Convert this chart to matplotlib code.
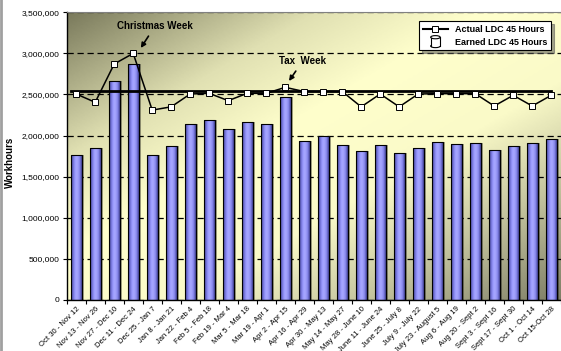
import numpy as np
import matplotlib
matplotlib.use("Agg")
import matplotlib.pyplot as plt
from matplotlib.colors import LinearSegmentedColormap
from matplotlib.legend_handler import HandlerBase
from matplotlib.patches import Rectangle, Ellipse
from matplotlib.lines import Line2D
from matplotlib.ticker import FuncFormatter

plt.rcParams['font.family'] = ['Liberation Sans', 'DejaVu Sans']

# Two-week reporting periods
weeks = ['Oct 30 - Nov 12', 'Nov 13 - Nov 26', 'Nov 27 - Dec 10', 'Dec 11 - Dec 24',
         'Dec 25 - Jan 7', 'Jan 8 - Jan 21', 'Jan 22 - Feb 4', 'Feb 5 - Feb 18',
         'Feb 19 - Mar 4', 'Mar 5 - Mar 18', 'Mar 19 - Apr 1', 'Apr 2 - Apr 15',
         'Apr 16 - Apr 29', 'Apr 30 - May 13', 'May 14 - May 27', 'May 28 - June 10',
         'June 11 - June 24', 'June 25 - July 8', 'July 9 - July 22', 'July 23 - August 5',
         'Aug 6 - Aug 19', 'Aug 20 - Sept 2', 'Sept 3 - Sept 16', 'Sept 17 - Sept 30',
         'Oct 1 - Oct 14', 'Oct 15-Oct 28']

# Workhours per period
earned = [1764000, 1845000, 2660000, 2871000, 1760000, 1873000, 2141000, 2190000,
          2080000, 2160000, 2137000, 2470000, 1930000, 2000000, 1880000, 1810000,
          1885000, 1790000, 1845000, 1920000, 1895000, 1905000, 1830000, 1875000,
          1905000, 1960000]
actual = [2506000, 2405000, 2871000, 3000000, 2310000, 2350000, 2506000, 2514000,
          2425000, 2514000, 2514000, 2587000, 2536000, 2536000, 2536000, 2350000,
          2506000, 2350000, 2506000, 2510000, 2510000, 2510000, 2360000, 2490000,
          2360000, 2490000]
target = 2545000

x = np.arange(len(weeks))

fig = plt.figure(figsize=(5.61, 3.51), dpi=100)
ax = fig.add_axes([0.1189, 0.1453, 0.8806, 0.8197])

# diagonal background gradient: dark corners, pale yellow band across the middle
u = np.linspace(0, 1, 300)
d = np.linspace(0, 1, 200)
U, D = np.meshgrid(u, d)
bg_cmap = LinearSegmentedColormap.from_list(
    'bg', [(0, '#7a7a5c'), (0.25, '#e0e0b2'), (0.42, '#ffffcc'),
           (0.62, '#fafac8'), (0.8, '#c4c49e'), (1, '#7e7e66')])
ax.imshow((U + D) / 2, cmap=bg_cmap, vmin=0, vmax=1, extent=[0, 1, 0, 1],
          transform=ax.transAxes, aspect='auto', origin='upper', zorder=0)

# bar shadows, then the bars themselves with cylinder shading
bar_w = 0.58
ax.bar(x + 0.12, earned, bar_w, color='black', alpha=0.35, zorder=1.5, linewidth=0)
bars = ax.bar(x, earned, bar_w, color='#9999ff', edgecolor='black', linewidth=0.8, zorder=2)
cyl = LinearSegmentedColormap.from_list(
    'cyl', [(0, '#2c2c60'), (0.12, '#6464c8'), (0.35, '#9c9cff'), (0.5, '#a8a8ff'),
            (0.7, '#8c8cf0'), (0.88, '#5050aa'), (1, '#24244c')])
shade = np.linspace(0, 1, 64).reshape(1, -1)
for rect in bars:
    x0, y0 = rect.get_x(), rect.get_y()
    im = ax.imshow(shade, cmap=cyl, extent=[x0, x0 + rect.get_width(), y0, y0 + rect.get_height()],
                   aspect='auto', zorder=2.1)
    im.set_clip_path(rect)
    rect.set_facecolor('none')
    rect.set_zorder(2.2)

# target line and actual hours
ax.plot([x[0] - 0.3, x[-1]], [target, target], color='black', lw=2, zorder=3)
ax.plot(x, actual, color='black', lw=1.1, marker='s', ms=4, mfc='white',
        mec='black', mew=0.7, zorder=4)

# callouts
arrow = dict(arrowstyle='-|>', color='black', lw=1.2, mutation_scale=7, shrinkB=0)
ax.annotate('Christmas Week', xy=(3.4, 3066000), xytext=(4.15, 3333000),
            ha='center', va='center', fontsize=7, fontweight='bold', arrowprops=arrow)
ax.annotate('Tax  Week', xy=(11.2, 2664000), xytext=(11.92, 2907000),
            ha='center', va='center', fontsize=7, fontweight='bold', arrowprops=arrow)

ax.set_xlim(-0.5, len(weeks) - 0.5)
ax.set_ylim(0, 3500000)
ax.set_yticks(np.arange(0, 3500001, 500000))
ax.yaxis.set_major_formatter(FuncFormatter(lambda v, p: f'{v:,.0f}'))
ax.yaxis.grid(True, color='black', linestyle=(0, (5, 3)), linewidth=0.9)
ax.set_axisbelow(True)
ax.tick_params(axis='y', direction='out', length=3, width=0.8, labelsize=6, pad=2)

ax.set_xticks(x)
ax.set_xticklabels(weeks, rotation=45, ha='right', rotation_mode='anchor', fontsize=5.5)
ax.set_xticks(np.arange(len(weeks) + 1) - 0.5, minor=True)
ax.tick_params(axis='x', which='major', length=0, pad=4)
ax.tick_params(axis='x', which='minor', length=3, width=0.8)

ax.set_ylabel('Workhours', fontsize=7, fontweight='bold')
ax.yaxis.set_label_coords(-0.105, 0.48)

ax.spines['top'].set_color('#808080')
ax.spines['top'].set_linewidth(0.8)
ax.spines['right'].set_visible(False)
ax.spines['left'].set_linewidth(1)
ax.spines['bottom'].set_linewidth(1)


class Cylinder:
    pass


class CylinderHandler(HandlerBase):
    def create_artists(self, legend, orig_handle, xdescent, ydescent, width, height, fontsize, trans):
        cx = -xdescent + width / 2
        cy = -ydescent + height / 2
        w, h, eh = 1.5 * height, 1.4 * height, 0.5 * height
        parts = [
            Ellipse((cx, cy - h / 2), w, eh, fc='white', ec='black', lw=0.8),
            Rectangle((cx - w / 2, cy - h / 2), w, h, fc='white', ec='none'),
            Line2D([cx - w / 2] * 2, [cy - h / 2, cy + h / 2], color='black', lw=0.8),
            Line2D([cx + w / 2] * 2, [cy - h / 2, cy + h / 2], color='black', lw=0.8),
            Ellipse((cx, cy + h / 2), w, eh, fc='white', ec='black', lw=0.8),
        ]
        for p in parts:
            p.set_transform(trans)
        return parts


handles = [Line2D([], [], color='black', lw=1.5, marker='s', ms=4, mfc='white', mec='black', mew=0.7),
           Cylinder()]
leg = ax.legend(handles, ['Actual LDC 45 Hours', 'Earned LDC 45 Hours'],
                handler_map={Cylinder: CylinderHandler()},
                loc='upper right', bbox_to_anchor=(0.99, 0.985),
                prop={'weight': 'bold', 'size': 6.5}, fancybox=False, shadow=True,
                edgecolor='black', framealpha=1, borderpad=0.4, handlelength=2.8,
                labelspacing=0.45, handletextpad=0.8)
leg.get_frame().set_linewidth(0.8)
leg.set_zorder(10)

# thin gray border on the left side of the figure
fig.add_artist(Line2D([0.002, 0.002], [0, 1], transform=fig.transFigure, color='#a0a0a0', lw=2))

fig.savefig('out.png', dpi=100)
